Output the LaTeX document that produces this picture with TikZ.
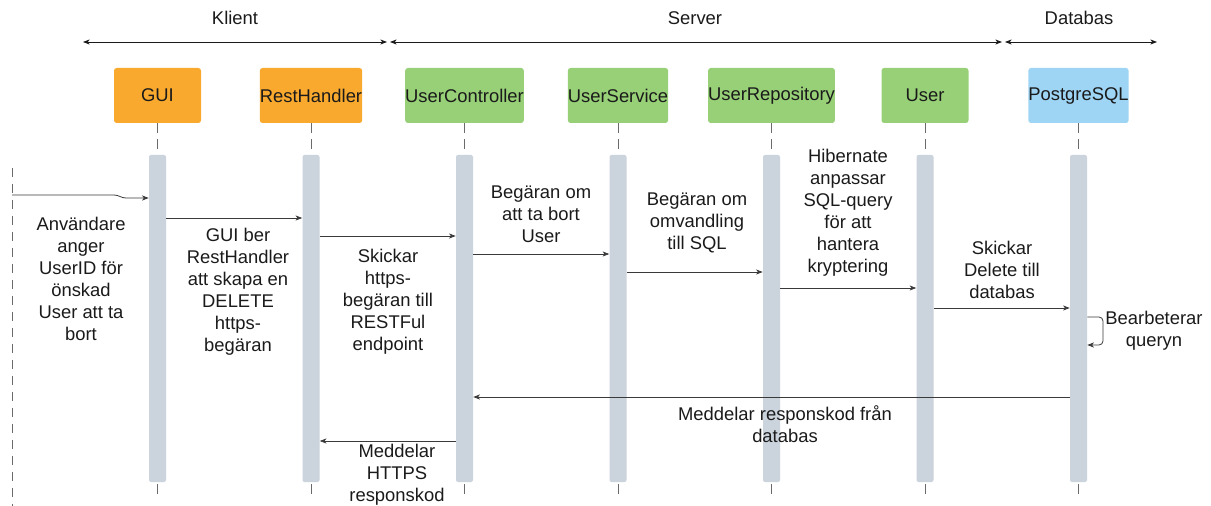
\documentclass[tikz,border=0pt]{standalone}
\usepackage{fontspec}
\setmainfont{Liberation Sans}
\usetikzlibrary{arrows.meta,calc}
\definecolor{boxorange}{HTML}{F9AA2E}
\definecolor{boxgreen}{HTML}{97D077}
\definecolor{boxblue}{HTML}{9ED4F4}
\definecolor{barfill}{HTML}{CBD3DD}
\definecolor{ink}{HTML}{1A1A1A}
\definecolor{wire}{HTML}{3A3A3A}
\definecolor{dashgray}{HTML}{6A6A6A}
\begin{document}
\begin{tikzpicture}[x=0.75pt,y=-0.75pt,
  every node/.style={font=\fontsize{13.8pt}{16.5pt}\selectfont, text=ink},
  lifebox/.style={rectangle, rounded corners=2pt, minimum width=65.25pt,
    minimum height=41.25pt, inner sep=0pt},
  actbar/.style={rectangle, rounded corners=1.5pt, fill=barfill,
    minimum width=12.75pt, minimum height=245.25pt, inner sep=0pt},
  lifeline/.style={draw=dashgray, line width=0.6pt, dash pattern=on 7pt off 5pt},
  msg/.style={draw=wire, line width=0.6pt, -{Stealth[length=5pt,width=3.8pt,inset=1.4pt]}},
  span/.style={draw=ink, line width=0.6pt,
    {Stealth[length=5pt,width=3.8pt,inset=1.4pt]}-{Stealth[length=5pt,width=3.8pt,inset=1.4pt]}},
  note/.style={align=center, inner sep=0pt},
]
\useasboundingbox (0,0) rectangle (1211,506);

% tier headings with their extents
\node (klient) at (235,18) {Klient};
\node (server) at (695,18) {Server};
\node (databas) at (1079,18) {Databas};
\coordinate (kL) at (83,42);   \coordinate (kR) at (387,42);
\coordinate (sL) at (390,42);  \coordinate (sR) at (1002,42);
\coordinate (dL) at (1005,42); \coordinate (dR) at (1157,42);
\draw[span] (kL) -- (kR);
\draw[span] (sL) -- (sR);
\draw[span] (dL) -- (dR);

% participants
\node[lifebox, fill=boxorange] (gui)  at (157.5,95.5) {GUI};
\node[lifebox, fill=boxorange] (rest) at (311,95.5)   {RestHandler};
\node[lifebox, fill=boxgreen]  (ctrl) at (464.5,95.5) {UserController};
\node[lifebox, fill=boxgreen]  (serv) at (618,95.5)   {UserService};
\node[lifebox, fill=boxgreen]  (repo) at (771.5,95.5) {UserRepository};
\node[lifebox, fill=boxgreen]  (user) at (925,95.5)   {User};
\node[lifebox, fill=boxblue]   (pg)   at (1078.5,95.5){PostgreSQL};

% activation bars
\node[actbar] (gbar) at (157.5,318.5) {};
\node[actbar] (rbar) at (311,318.5)   {};
\node[actbar] (cbar) at (464.5,318.5) {};
\node[actbar] (sbar) at (618,318.5)   {};
\node[actbar] (obar) at (771.5,318.5) {};
\node[actbar] (ubar) at (925,318.5)   {};
\node[actbar] (pbar) at (1078.5,318.5){};

% lifelines above and below the bars
\foreach \b/\a in {gui/gbar,rest/rbar,ctrl/cbar,serv/sbar,repo/obar,user/ubar,pg/pbar}{
  \draw[lifeline] (\b.south) -- (\a.north);
  \draw[lifeline] ($(\a.south)+(0,2)$) -- ++(0,16);
}

% the end user
\coordinate (usrtop) at (12,168);
\coordinate (usrbot) at (12,506);
\draw[lifeline] (usrtop) -- (usrbot);
\coordinate (usrmsg) at (12,195);

% messages
\draw[msg] (usrmsg) -- (114,195) to[out=0,in=180] (126,198) -- (gbar.west |- 0,198);
\draw[msg] (gbar.east |- 0,218) -- (rbar.west |- 0,218);
\draw[msg] (rbar.east |- 0,236) -- (cbar.west |- 0,236);
\draw[msg] (cbar.east |- 0,254) -- (sbar.west |- 0,254);
\draw[msg] (sbar.east |- 0,272) -- (obar.west |- 0,272);
\draw[msg] (obar.east |- 0,288) -- (ubar.west |- 0,288);
\draw[msg] (ubar.east |- 0,308) -- (pbar.west |- 0,308);
\draw[msg, rounded corners=3pt] (pbar.east |- 0,317) -- (1103,317) -- (1103,345) -- (pbar.east |- 0,345);
\draw[msg] (pbar.west |- 0,397) -- (cbar.east |- 0,397);
\draw[msg] (cbar.west |- 0,441) -- (rbar.east |- 0,441);

% message texts
\node[note] (t0) at (81,279) {Användare\\anger\\UserID för\\önskad\\User att ta\\bort};
\node[note] (t1) at (238,292) {GUI ber\\RestHandler\\att skapa en\\DELETE\\https-\\begäran};
\node[note] (t2) at (388,302) {Skickar\\https-\\begäran till\\RESTFul\\endpoint};
\node[note] (t3) at (541,214) {Begäran om\\att ta bort\\User};
\node[note] (t4) at (697,223) {Begäran om\\omvandling\\till SQL};
\node[note] (t5) at (848,213) {Hibernate\\anpassar\\SQL-query\\för att\\hantera\\kryptering};
\node[note] (t6) at (1002,270) {Skickar\\Delete till\\databas};
\node[note] (t7) at (1154,331) {Bearbeterar\\queryn};
\node[note] (t8) at (785,424) {Meddelar responskod från\\databas};
\node[note] (t9) at (397,475) {Meddelar\\HTTPS\\responskod};
\end{tikzpicture}
\end{document}
